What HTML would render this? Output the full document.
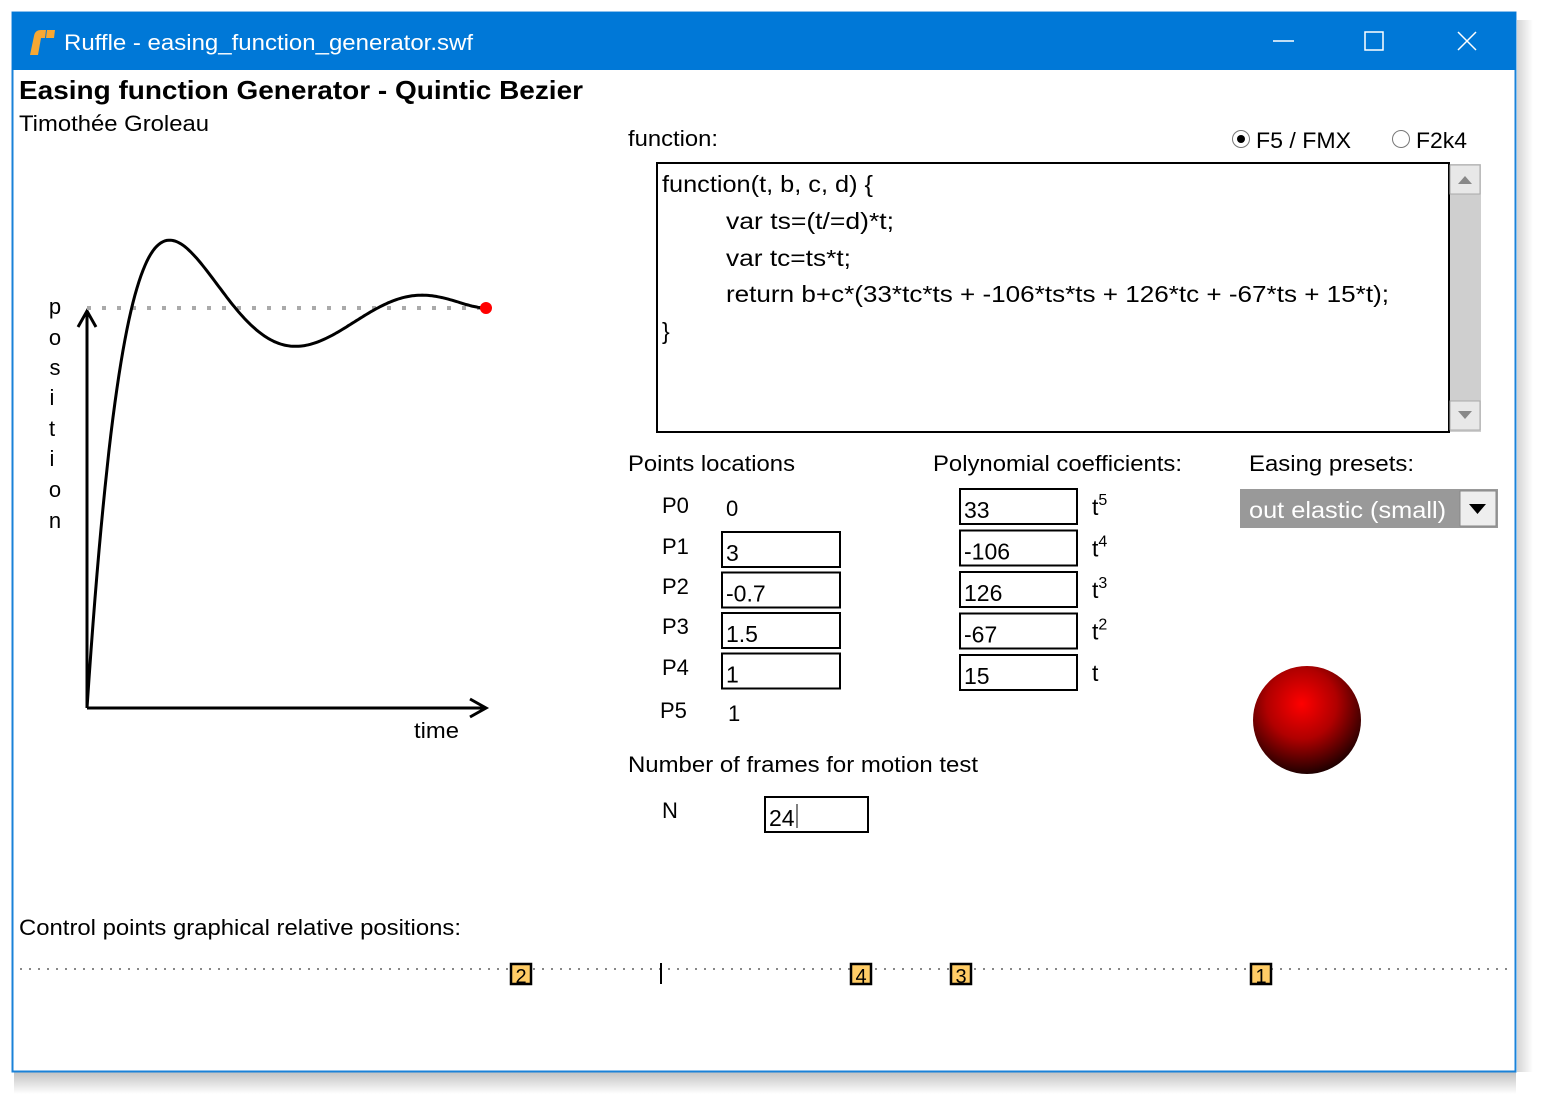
<!DOCTYPE html>
<html><head><meta charset="utf-8"><style>
body{margin:0;width:1544px;height:1100px;background:#fff;overflow:hidden;font-family:"Liberation Sans",sans-serif}
svg text{font-family:"Liberation Sans",sans-serif}
</style></head><body>
<svg id="s" width="1544" height="1100">
<defs>
<radialGradient id="ball" cx="0.45" cy="0.35" r="0.65"><stop offset="0" stop-color="#ff0000"/><stop offset="0.5" stop-color="#b00000"/><stop offset="1" stop-color="#200000"/></radialGradient>
<linearGradient id="sh" x1="0" y1="0" x2="0" y2="1"><stop offset="0" stop-color="#999"/><stop offset="1" stop-color="#fff"/></linearGradient>
<linearGradient id="shr" x1="0" y1="0" x2="1" y2="0"><stop offset="0" stop-color="#aaa"/><stop offset="1" stop-color="#fff"/></linearGradient>
</defs>
<rect x="14" y="1072" width="1502" height="22" fill="url(#sh)" opacity="0.6"/>
<rect x="1517" y="20" width="16" height="1052" fill="url(#shr)" opacity="0.5"/>
<rect x="12.5" y="12.5" width="1503" height="1059" fill="#fff" stroke="#1a82d8" stroke-width="2"/>
<g>
<rect x="12" y="12" width="1504" height="58" fill="#0078d7"/>
<path d="M30 55 L34 36 Q35 30 41 30 L46 30 L45 38 L41 38 L38 55Z" fill="#f7a833"/>
<path d="M47 30 L55 30 L54 38 L46 38Z" fill="#f7a833"/>
<text x="64" y="50" fill="#fff" font-size="22" textLength="409" lengthAdjust="spacingAndGlyphs">Ruffle - easing_function_generator.swf</text>
<line x1="1273" y1="41" x2="1294" y2="41" stroke="#fff" stroke-width="1.5"/>
<rect x="1365" y="32" width="18" height="18" fill="none" stroke="#fff" stroke-width="1.5"/>
<path d="M1458 32 L1476 50 M1476 32 L1458 50" stroke="#fff" stroke-width="1.5"/>
</g>
<text x="19" y="99" font-size="26" font-weight="bold" textLength="564" lengthAdjust="spacingAndGlyphs">Easing function Generator - Quintic Bezier</text>
<text x="19" y="131" font-size="22" textLength="190" lengthAdjust="spacingAndGlyphs">Timothée Groleau</text>
<g id="plot">
<line x1="87" y1="708" x2="485" y2="708" stroke="#000" stroke-width="3"/>
<path d="M470 699 L486 708 L470 717" fill="none" stroke="#000" stroke-width="3"/>
<line x1="87" y1="708" x2="87" y2="312" stroke="#000" stroke-width="3"/>
<path d="M78 327 L87 311 L96 327" fill="none" stroke="#000" stroke-width="3"/>
<line x1="87" y1="308" x2="486" y2="308" stroke="#aaa" stroke-width="4" stroke-dasharray="4 11"/>
<text x="414" y="738" font-size="22" textLength="45" lengthAdjust="spacingAndGlyphs">time</text>
<g font-size="22" text-anchor="middle"><text x="55" y="314">p</text><text x="55" y="345">o</text><text x="55" y="375">s</text><text x="52" y="405">i</text><text x="52" y="436">t</text><text x="52" y="466">i</text><text x="55" y="497">o</text><text x="55" y="528">n</text></g>
<path id="curve" fill="none" stroke="#000" stroke-width="3"/>
<circle cx="486" cy="308" r="6" fill="#f00"/>
</g>
<text x="628" y="146" font-size="22" textLength="90" lengthAdjust="spacingAndGlyphs">function:</text>
<g><circle cx="1241" cy="139" r="8.5" fill="#fff" stroke="#777"/><circle cx="1241" cy="139" r="4" fill="#000"/><text x="1256" y="148" font-size="22" textLength="95" lengthAdjust="spacingAndGlyphs">F5 / FMX</text></g>
<g><circle cx="1401" cy="139" r="8.5" fill="#fff" stroke="#777"/><text x="1416" y="148" font-size="22" textLength="51" lengthAdjust="spacingAndGlyphs">F2k4</text></g>
<rect x="657" y="163" width="792" height="269" fill="#fff" stroke="#000" stroke-width="2"/>
<g font-size="23">
<text x="662" y="192" textLength="211" lengthAdjust="spacingAndGlyphs">function(t, b, c, d) {</text>
<text x="726" y="229" textLength="168" lengthAdjust="spacingAndGlyphs">var ts=(t/=d)*t;</text>
<text x="726" y="266" textLength="125" lengthAdjust="spacingAndGlyphs">var tc=ts*t;</text>
<text x="726" y="302" textLength="663" lengthAdjust="spacingAndGlyphs">return b+c*(33*tc*ts + -106*ts*ts + 126*tc + -67*ts + 15*t);</text>
<text x="662" y="339">}</text>
</g>
<g>
<rect x="1450" y="164" width="31" height="268" fill="#cfcfcf"/>
<rect x="1450" y="165" width="30" height="29" fill="#e8e8e8" stroke="#aaa"/>
<path d="M1458 184 L1465 176 L1472 184Z" fill="#888"/>
<rect x="1450" y="401" width="30" height="29" fill="#e8e8e8" stroke="#aaa"/>
<path d="M1458 411 L1465 419 L1472 411Z" fill="#888"/>
</g>
<g font-size="22">
<text x="628" y="471" textLength="167" lengthAdjust="spacingAndGlyphs">Points locations</text>
<text x="933" y="471" textLength="249" lengthAdjust="spacingAndGlyphs">Polynomial coefficients:</text>
<text x="1249" y="471" textLength="165" lengthAdjust="spacingAndGlyphs">Easing presets:</text>
<text x="662" y="513">P0</text><text x="726" y="516">0</text>
<text x="662" y="554">P1</text><text x="662" y="594">P2</text><text x="662" y="634">P3</text><text x="662" y="675">P4</text>
<text x="660" y="718">P5</text><text x="728" y="721">1</text>
<text x="628" y="772" textLength="350" lengthAdjust="spacingAndGlyphs">Number of frames for motion test</text>
<text x="662" y="818">N</text>
<text x="19" y="935" textLength="442" lengthAdjust="spacingAndGlyphs">Control points graphical relative positions:</text>
</g>
<g id="inputs" font-size="23"></g>
<g>
<rect x="1240" y="489" width="258" height="39" fill="#999"/>
<text x="1249" y="518" font-size="23" fill="#fff" textLength="197" lengthAdjust="spacingAndGlyphs">out elastic (small)</text>
<rect x="1460" y="491" width="36" height="35" fill="#eee" stroke="#888"/>
<path d="M1469 504 L1486 504 L1477.5 514Z" fill="#000"/>
</g>
<circle cx="1307" cy="720" r="54" fill="url(#ball)"/>
<line x1="20" y1="969" x2="1512" y2="969" stroke="#888" stroke-width="2" stroke-dasharray="2 7"/>
<g id="ctrl"></g>
</svg>
<script>
const coeffs=[33,-106,126,-67,15];
const coeffLabels=["5","4","3","2",""];
const pointValues=["3","-0.7","1.5","1"];
const controlPoints=[3,-0.7,1.5,1];
const frames="24";
const NS="http://www.w3.org/2000/svg";
function mk(t,a,p){const e=document.createElementNS(NS,t);for(const k in a)e.setAttribute(k,a[k]);(p||document.getElementById('s')).appendChild(e);return e;}
const px=t=>87+t*399, py=v=>708-v*400;
let d="";
for(let i=0;i<=200;i++){const t=i/200;const v=coeffs[0]*t**5+coeffs[1]*t**4+coeffs[2]*t**3+coeffs[3]*t**2+coeffs[4]*t;d+=(i?"L":"M")+px(t).toFixed(1)+" "+py(v).toFixed(1);}
document.getElementById('curve').setAttribute('d',d);
const g=document.getElementById('inputs');
pointValues.forEach((v,i)=>{const y=532+i*40.5;
const r=mk('rect',{x:722,y:y,width:118,height:35,fill:'#fff',stroke:'#000','stroke-width':2},g);


const t=mk('text',{x:726,y:y+29},g);t.textContent=v;});
coeffs.forEach((c,i)=>{const y=489+i*41.5;
const r=mk('rect',{x:960,y:y,width:117,height:35,fill:'#fff',stroke:'#000','stroke-width':2},g);


const t=mk('text',{x:964,y:y+29},g);t.textContent=c;
const l=mk('text',{x:1092,y:y+26,'font-size':23},g);l.textContent='t';
if(coeffLabels[i]){const s=mk('tspan',{dy:-10,'font-size':16},l);s.textContent=coeffLabels[i];}});
const nr=mk('rect',{x:765,y:797,width:103,height:35,fill:'#fff',stroke:'#000','stroke-width':2},g);


const nt=mk('text',{x:769,y:826},g);nt.textContent=frames;
mk('line',{x1:797,y1:804,x2:797,y2:828,stroke:'#000'},g);
const cx=v=>661+v*200;
const cg=document.getElementById('ctrl');
mk('line',{x1:cx(0),y1:963,x2:cx(0),y2:984,stroke:'#000','stroke-width':2},cg);
controlPoints.forEach((v,i)=>{const x=cx(v);
const gr=mk('g',{},cg);


mk('rect',{x:x-10,y:964,width:20,height:20,fill:'#ffcc66',stroke:'#000','stroke-width':2.5},gr);
const t=mk('text',{x:x,y:983,'text-anchor':'middle','font-size':20},gr);t.textContent=i+1;});
</script>
</body></html>
